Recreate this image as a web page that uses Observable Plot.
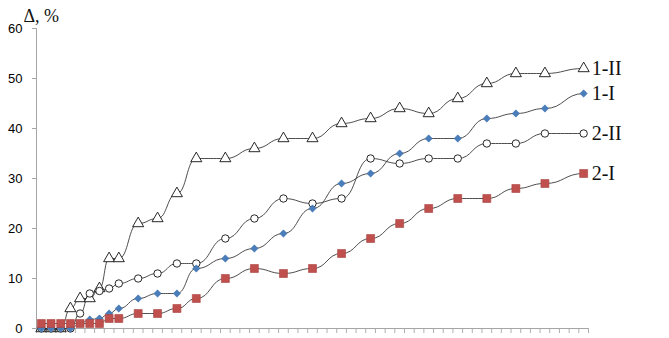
<!DOCTYPE html>
<html><head><meta charset="utf-8">
<script src="https://cdn.jsdelivr.net/npm/d3@7"></script>
<script src="https://cdn.jsdelivr.net/npm/@observablehq/plot@0.6"></script>
<style>body{margin:0;background:#fff;}#chart svg{display:block;}</style>
</head><body><div id="chart"></div>
<script>
// category index of each measurement along the (unlabelled) category axis
const xIndex = [0,1,2,3,4,5,6,7,8,10,12,14,16,19,22,25,28,31,34,37,40,43,46,49,52,56];
const s1II = [0,0,0,4,6,6,8,14,14,21,22,27,34,34,36,38,38,41,42,44,43,46,49,51,51,52];
const s1I  = [0,0,0,0,1,1.8,2,3,4,6,7,7,12,14,16,19,24,29,31,35,38,38,42,43,44,47];
const s2II = [0,0,0,0,3,7,7.5,8,9,10,11,13,13,18,22,26,25,26,34,33,34,34,37,37,39,39];
const s2I  = [1,1,1,1,1,1,1,2,2,3,3,4,6,10,12,11,12,15,18,21,24,26,26,28,29,31];
const seriesNames = ["1-II","1-I","2-II","2-I"];
const categoryCount = 57;
const yTicks = [0,10,20,30,40,50,60];
const yTitle = "Δ, %";

const seriesValues = [s1II, s1I, s2II, s2I];
const rows = [];
seriesValues.forEach((vals, si) => vals.forEach((v, i) => rows.push({series: seriesNames[si], x: xIndex[i], y: v})));
const bySeries = name => rows.filter(r => r.series === name);
const lastIdx = xIndex.length - 1;
const labels = seriesNames.map((n, si) => ({series: n, x: xIndex[lastIdx], y: seriesValues[si][lastIdx]}));
const boundaries = d3.range(categoryCount + 1).map(i => i - 0.5);

const chart = Plot.plot({
  width: 669, height: 338,
  marginLeft: 36, marginRight: 81, marginTop: 28, marginBottom: 10,
  style: {fontFamily: "Liberation Sans", fontSize: "13px", background: "#fff", color: "#000", overflow: "visible"},
  x: {domain: [-0.5, categoryCount - 0.5], axis: null},
  y: {domain: [0, 60], axis: null},
  marks: [
    Plot.axisY({ticks: yTicks, tickSize: 4, tickPadding: 10, label: null, stroke: "#a6a6a6", fill: "#000", fontSize: 13}),
    Plot.axisX({ticks: boundaries, tickSize: 5, tickFormat: () => "", label: null, stroke: "#b0b0b0"}),
    Plot.ruleX([-0.5], {stroke: "#a6a6a6"}),
    Plot.ruleY([0], {stroke: "#a6a6a6"}),
    Plot.line(rows, {x: "x", y: "y", z: "series", curve: "bump-x", stroke: "#3a3a3a", strokeWidth: 0.9}),
    Plot.dot(bySeries("1-II"), {x: "x", y: "y", symbol: "triangle", r: 4.1, fill: "#fff", stroke: "#111", strokeWidth: 0.9}),
    Plot.dot(bySeries("2-II"), {x: "x", y: "y", symbol: "circle", r: 3.7, fill: "#fff", stroke: "#111", strokeWidth: 0.9}),
    Plot.dot(bySeries("1-I"), {x: "x", y: "y", symbol: "diamond2", r: 3.3, fill: "#4a7ebb", stroke: "#3d6da8", strokeWidth: 0.5}),
    Plot.dot(bySeries("2-I"), {x: "x", y: "y", symbol: "square", r: 4.5, fill: "#c0504d", stroke: "#a8423f", strokeWidth: 0.6}),
    Plot.text(labels, {x: "x", y: "y", text: "series", dx: 8, textAnchor: "start", fontFamily: "Liberation Serif", fontSize: 20, fill: "#111"}),
    Plot.text([yTitle], {frameAnchor: "top-left", dx: -13, dy: -19, textAnchor: "start", fontFamily: "Liberation Serif", fontSize: 18, fill: "#111"})
  ]
});
document.getElementById("chart").append(chart);
</script>
</body></html>
